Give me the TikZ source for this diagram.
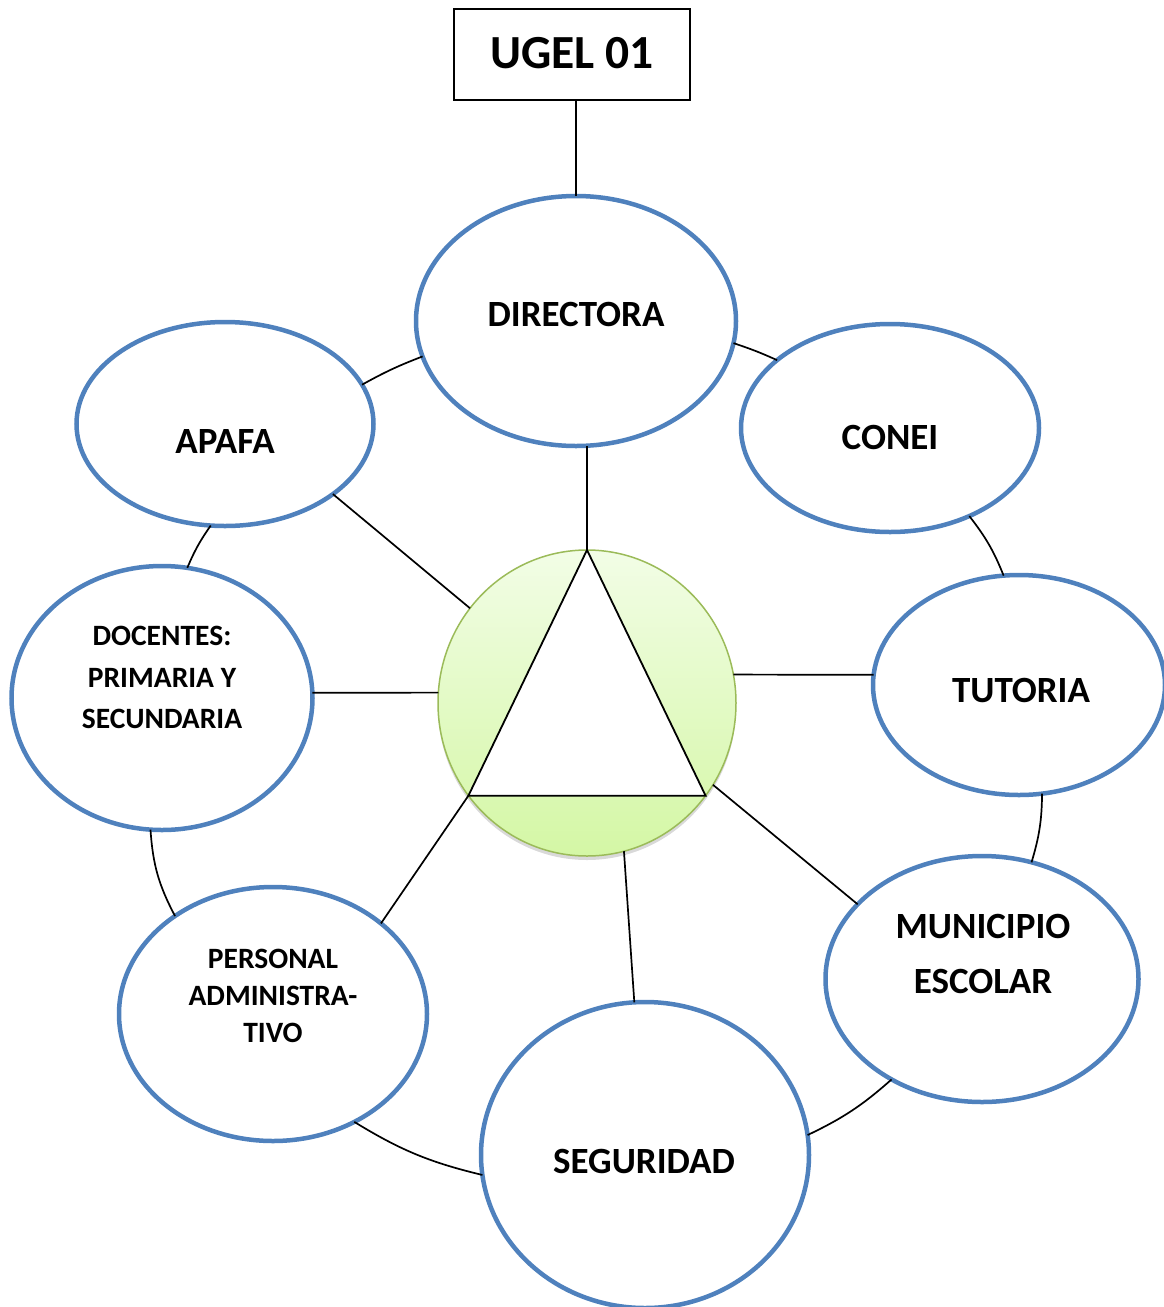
\documentclass[tikz,border=0pt]{standalone}
\usepackage{fontspec}
\setmainfont{Carlito}
\usetikzlibrary{shapes.geometric,shadows}
\definecolor{oblue}{RGB}{79,129,189}
\definecolor{ogreen}{RGB}{155,187,89}
\definecolor{gtop}{RGB}{242,253,230}
\definecolor{gbot}{RGB}{212,247,165}
\begin{document}
\begin{tikzpicture}[x=1pt,y=-1pt,
  oval/.style={ellipse,draw=oblue,line width=4.5pt,fill=white,inner sep=0pt,outer sep=0pt},
  bigtxt/.style={font=\fontsize{37}{55}\selectfont\bfseries,align=center,inner sep=0pt},
  smalltxt/.style={font=\fontsize{29.5}{41.5}\selectfont\bfseries,align=center,inner sep=0pt},
  link/.style={draw=black,line width=1.7pt},
  ]
\useasboundingbox (0,0) rectangle (1164,1307);

% boxes and ovals
\node[draw,line width=1.5pt,minimum width=236pt,minimum height=91pt,inner sep=0pt,
      font=\fontsize{47.5}{50}\selectfont\bfseries] (ugel) at (572,54.5) {\raisebox{3pt}{UGEL 01}};
\node[oval,minimum width=320pt,minimum height=250pt] (dir)   at (576,321)  {};
\node[oval,minimum width=298pt,minimum height=208pt] (conei) at (890,428)  {};
\node[oval,minimum width=297pt,minimum height=204pt] (apafa) at (225,424)  {};
\node[oval,minimum width=301pt,minimum height=264pt] (doc)   at (162,698)  {};
\node[oval,minimum width=292pt,minimum height=220pt] (tut)   at (1019,685) {};
\node[oval,minimum width=313pt,minimum height=246pt] (mun)   at (982,979)  {};
\node[oval,minimum width=328pt,minimum height=306pt] (seg)   at (645,1155) {};
\node[oval,minimum width=308pt,minimum height=254pt] (per)   at (273,1014) {};

% centre circle with triangle
\node[ellipse,minimum width=298pt,minimum height=306pt,inner sep=0pt,outer sep=0pt,
      draw=ogreen,line width=1.5pt,top color=gtop,bottom color=gbot,
      drop shadow={opacity=0.3,shadow xshift=0pt,shadow yshift=-4pt}] (c) at (587,703) {};
\draw[line width=1.8pt,fill=white,line join=miter] (c.north) -- (c.218) -- (c.-38) -- cycle;

% labels
\node[bigtxt] (dirT)   at (576,314)  {DIRECTORA};
\node[bigtxt] (coneiT) at (890,437)  {CONEI};
\node[bigtxt] (apafaT) at (225,441)  {APAFA};
\node[bigtxt] (tutT)   at (1021,690) {TUTORIA};
\node[bigtxt] (munT)   at (983,954)  {MUNICIPIO\\ESCOLAR};
\node[bigtxt] (segT)   at (644,1161) {SEGURIDAD};
\node[smalltxt] (docT) at (162,677.5) {DOCENTES:\\PRIMARIA Y\\SECUNDARIA};
\node[smalltxt,font=\fontsize{29.5}{37}\selectfont\bfseries] (perT) at (273,996) {PERSONAL\\ADMINISTRA-\\TIVO};

% spokes
\draw[link] (dir.north) -- (dir.north |- ugel.south);
\draw[link] (c.north) -- (c.north |- dir.south);
\draw[link] (apafa.-33) -- (c.141);
\draw[link] (doc.2) -- (c.176);
\draw[link] (tut.176) -- (c.11);
\draw[link] (per.40) -- (c.218);
\draw[link] (seg.94) -- (c.-76);
\draw[link] (mun.149) -- (c.-33);

% ring
\draw[link] (dir.-8)    to[bend left=3]  (conei.149);
\draw[link] (conei.-48) to[bend left=8]  (tut.98);
\draw[link] (tut.-78)   to[bend left=8]  (mun.67);
\draw[link] (mun.228)   to[bend left=8]  (seg.7);
\draw[link] (seg.187)   to[bend left=9]  (per.-53);
\draw[link] (per.135)   to[bend left=12] (doc.-95);
\draw[link] (doc.79)    to[bend left=6]  (apafa.-98);
\draw[link] (apafa.16)  to[bend left=4]  (dir.193);
\end{tikzpicture}
\end{document}
